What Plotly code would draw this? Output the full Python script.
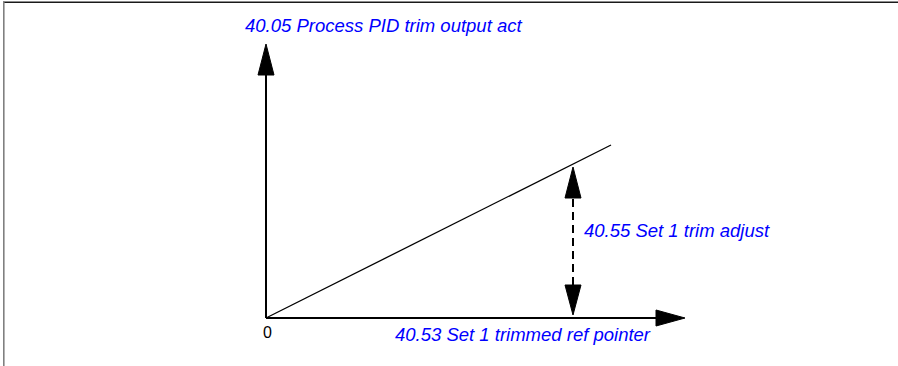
import plotly.graph_objects as go

# ---- diagram content ----
y_axis_label = "40.05 Process PID trim output act"
x_axis_label = "40.53 Set 1 trimmed ref pointer"
adjust_label = "40.55 Set 1 trim adjust"
origin_label = "0"

# axis extents (data units, origin at 0,0)
x_axis_end = 390
y_axis_end = 243
# trimmed output line
trim_x = [0, 345]
trim_y = [0, 173]
# trim adjust dimension arrow
adjust_x = 307
adjust_y = [33, 120]

W, H = 898, 366
X0, Y0 = 266, 318  # pixel location of origin

fig = go.Figure()

def line(xs, ys, dash=None, width=2):
    fig.add_trace(go.Scatter(x=xs, y=ys, mode="lines",
                             line=dict(color="black", width=width, dash=dash),
                             hoverinfo="skip", showlegend=False))

def tri(xs, ys):
    fig.add_trace(go.Scatter(x=xs + [xs[0]], y=ys + [ys[0]], mode="lines",
                             fill="toself", fillcolor="black",
                             line=dict(color="black", width=1),
                             hoverinfo="skip", showlegend=False))

AH_W, AH_L = 8, 30

# Y axis with arrowhead
line([0, 0], [0, y_axis_end])
tri([-AH_W, AH_W, 0], [y_axis_end, y_axis_end, y_axis_end + AH_L + 1])
# X axis with arrowhead
line([0, x_axis_end], [0, 0])
tri([x_axis_end, x_axis_end, x_axis_end + AH_L - 1], [-AH_W, AH_W, 0])
# trim line
line(trim_x, trim_y, width=1.3)
# dashed dimension arrow
line([adjust_x, adjust_x], adjust_y, dash="8px,5px", width=2)
tri([adjust_x - AH_W, adjust_x + AH_W, adjust_x],
    [adjust_y[1], adjust_y[1], adjust_y[1] + AH_L + 1])
tri([adjust_x - AH_W, adjust_x + AH_W, adjust_x],
    [adjust_y[0], adjust_y[0], adjust_y[0] - AH_L])

blue = "#0000ff"
lab_font = dict(family="Liberation Sans, Arial, sans-serif", size=18.5, color=blue)
fig.add_annotation(x=-23, y=293, text=f"<i>{y_axis_label}</i>", showarrow=False,
                   xanchor="left", yanchor="middle", font=lab_font)
fig.add_annotation(x=127, y=-16, text=f"<i>{x_axis_label}</i>", showarrow=False,
                   xanchor="left", yanchor="middle", font=lab_font)
fig.add_annotation(x=316, y=88, text=f"<i>{adjust_label}</i>", showarrow=False,
                   xanchor="left", yanchor="middle", font=lab_font)
fig.add_annotation(x=1, y=-14, text=origin_label, showarrow=False,
                   xanchor="center", yanchor="middle",
                   font=dict(family="Liberation Sans, Arial, sans-serif", size=16, color="black"))

# frame lines (top and left)
fig.add_shape(type="line", xref="paper", yref="paper",
              x0=3 / W, x1=1, y0=1 - 2.3 / H, y1=1 - 2.3 / H,
              line=dict(color="#1a1a1a", width=1.6))
fig.add_shape(type="line", xref="paper", yref="paper",
              x0=3.8 / W, x1=3.8 / W, y0=0, y1=1 - 1.5 / H,
              line=dict(color="#808080", width=1.6))

fig.update_layout(
    width=W, height=H, margin=dict(l=0, r=0, t=0, b=0),
    paper_bgcolor="white", plot_bgcolor="white",
    xaxis=dict(range=[-X0, W - X0], visible=False, fixedrange=True),
    yaxis=dict(range=[Y0 - H, Y0], visible=False, fixedrange=True),
)

fig.write_html("out.html", config={"displayModeBar": False},
               post_script="document.body.style.margin='0';document.body.style.overflow='hidden';")
